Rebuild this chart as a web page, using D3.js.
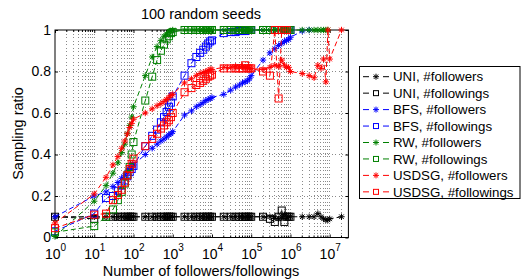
<!DOCTYPE html>
<html><head><meta charset="utf-8">
<script src="https://cdn.jsdelivr.net/npm/d3@7"></script>
<style>
body{margin:0;background:#fff;}
svg{display:block;font-family:"Liberation Sans",Arial,Helvetica,sans-serif;}
</style></head><body>
<svg id="c" width="522" height="280"></svg>
<script>
// ---------- data ----------
const followerCounts = [1,
 10,20,30,40,50,60,70,80,90,
 100,200,300,400,500,600,700,800,900,
 1e3,2e3,3e3,4e3,5e3,6e3,7e3,8e3,9e3,
 1e4,2e4,3e4,4e4,5e4,6e4,7e4,8e4,9e4,
 1e5,2e5,3e5,4e5,5e5,6e5,7e5,8e5,9e5,
 1e6,2e6,3e6,4e6,5e6,6e6,7e6,8e6,9e6,
 1e7,2e7];

const uniFollowers = [0.10,
 0.10,0.10,0.10,0.10,0.10,0.10,0.10,0.10,0.10,
 0.10,0.10,0.10,0.10,0.10,0.10,0.10,0.10,0.10,
 0.10,0.10,0.10,0.10,0.10,0.10,0.10,0.10,0.10,
 0.10,0.10,0.10,0.10,0.10,0.10,0.10,0.10,0.10,
 0.10,0.10,0.10,0.10,0.09,0.10,0.11,0.10,0.10,
 0.10,0.10,0.10,0.10,0.115,0.10,0.09,0.085,0.085,
 0.09,0.10];

const uniFollowings = [0.10,
 0.09,0.10,0.10,0.10,0.10,0.10,0.10,0.10,0.10,
 0.10,0.10,0.10,0.10,0.10,0.10,0.10,0.10,0.10,
 0.10,0.10,0.10,0.10,0.10,0.10,0.10,0.10,0.10,
 0.10,0.10,0.10,0.10,0.10,0.10,0.10,0.10,0.10,
 0.10,0.10,0.09,0.075,0.10,0.13,0.075,0.10,0.10,
 0.10,null,null,null,null,null,null,null,null,
 null,null];

const bfsFollowers = [0.10,
 0.20,0.22,0.245,0.265,0.285,0.30,0.315,0.33,0.34,
 0.35,0.40,0.43,0.45,0.465,0.475,0.485,0.495,0.50,
 0.51,0.59,0.61,0.63,0.64,0.65,0.66,0.665,0.67,
 0.675,0.69,0.71,0.725,0.735,0.745,0.75,0.755,0.765,
 0.78,0.855,0.89,0.91,0.925,0.935,0.945,0.95,0.955,
 0.965,0.995,1.0,null,null,null,null,null,null,
 null,null];

const bfsFollowings = [0.03,
 0.115,0.19,0.20,0.225,0.25,0.275,0.295,0.315,0.33,
 0.345,0.44,0.49,0.52,0.555,0.58,0.605,0.63,0.65,
 0.68,0.78,0.84,0.87,0.89,0.905,0.92,0.935,0.945,
 0.95,0.985,0.99,0.99,0.995,0.995,0.995,1.0,1.0,
 1.0,1.0,1.0,1.0,1.0,1.0,1.0,1.0,1.0,
 1.0,null,null,null,null,null,null,null,null,
 null,null];

const rwFollowers = [0.005,
 0.175,0.25,0.31,0.36,0.41,0.45,0.50,0.54,0.58,
 0.63,0.78,0.87,0.92,0.95,0.97,0.98,0.99,0.995,
 1.0,1.0,1.0,1.0,1.0,1.0,1.0,1.0,1.0,
 1.0,1.0,1.0,1.0,1.0,1.0,1.0,1.0,1.0,
 1.0,1.0,1.0,1.0,1.0,1.0,1.0,1.0,1.0,
 1.0,1.0,1.0,1.0,1.0,1.0,1.0,1.0,1.0,
 null,null];

const rwFollowings = [0.025,
 0.055,0.10,0.135,0.18,0.22,0.26,0.30,0.34,0.40,
 0.46,0.66,0.775,0.855,0.90,0.93,0.955,0.97,0.985,
 0.99,1.0,1.0,1.0,1.0,1.0,1.0,1.0,1.0,
 1.0,1.0,1.0,1.0,1.0,1.0,1.0,1.0,1.0,
 1.0,1.0,1.0,1.0,1.0,1.0,1.0,1.0,1.0,
 1.0,null,null,null,null,null,null,null,null,
 null,null];

const usdsgFollowers = [0.07,
 0.21,0.29,0.35,0.39,0.43,0.465,0.50,0.53,0.55,
 0.57,0.60,0.62,0.635,0.645,0.655,0.665,0.675,0.685,
 0.69,0.745,0.765,0.78,0.79,0.795,0.80,0.805,0.81,
 0.81,0.82,0.82,0.825,0.82,0.825,0.82,0.82,0.815,
 0.815,0.81,0.82,0.83,0.825,0.855,0.83,0.82,0.82,
 0.80,0.79,0.78,0.77,0.83,0.815,0.86,0.75,1.0,
 0.86,1.0];

const usdsgFollowings = [0.045,
 0.11,0.115,0.18,0.205,0.23,0.265,0.30,0.33,0.355,
 0.38,0.44,0.475,0.50,0.525,0.54,0.555,0.565,0.58,
 0.60,0.70,0.72,0.735,0.745,0.755,0.765,0.775,0.78,
 0.785,0.815,0.815,0.815,0.815,0.815,0.83,0.815,0.815,
 0.815,0.80,0.78,1.0,0.67,1.0,1.0,1.0,null,
 null,null,null,null,null,null,null,null,null,
 null,null];

const legendLabels = ["UNI, #followers","UNI, #followings","BFS, #followers","BFS, #followings",
  "RW, #followers","RW, #followings","USDSG, #followers","USDSG, #followings"];
const xDecades = [1,1e1,1e2,1e3,1e4,1e5,1e6,1e7];
const xExponents = ["0","1","2","3","4","5","6","7"];
const yTicks = [0,0.2,0.4,0.6,0.8,1];
const yTickLabels = ["0","0.2","0.4","0.6","0.8","1"];
const titleText = "100 random seeds";
const xLabel = "Number of followers/followings";
const yLabel = "Sampling ratio";

// ---------- chart ----------
const W=522,H=280;
const L=55,R=348.4,T=30,B=237.5;
const FONT='"Liberation Sans",Arial,Helvetica,sans-serif';
const x=d3.scaleLog().domain([1,3e7]).range([L,R]);
const y=d3.scaleLinear().domain([0,1]).range([B,T]);
const svg=d3.select('#c');
svg.append('rect').attr('width',W).attr('height',H).attr('fill','#fff');

// grid
const allXTicks = x.ticks().filter(v=>v>1 && v<3e7);
const grid = svg.append('g');
grid.selectAll('line.vx').data(allXTicks).join('line')
  .attr('x1',d=>x(d)).attr('x2',d=>x(d)).attr('y1',T).attr('y2',B)
  .attr('stroke','#8a8a8a').attr('stroke-width',1).attr('stroke-dasharray','1,2.5')
  .attr('shape-rendering','crispEdges');
grid.selectAll('line.hy').data(yTicks.filter(v=>v>0&&v<1)).join('line')
  .attr('x1',L).attr('x2',R).attr('y1',d=>y(d)).attr('y2',d=>y(d))
  .attr('stroke','#8a8a8a').attr('stroke-width',1).attr('stroke-dasharray','1,2.5')
  .attr('shape-rendering','crispEdges');

// axes
const gxB = svg.append('g').attr('transform',`translate(0,${B})`)
  .call(d3.axisBottom(x).tickValues(xDecades).tickSizeInner(-3).tickSizeOuter(0).tickPadding(12)
    .tickFormat(()=> "10"));
gxB.select('.domain').remove();
gxB.selectAll('text').attr('font-size',14).attr('font-family',FONT).attr('fill','#000')
  .each(function(d,i){ d3.select(this).append('tspan').attr('dy',-8).attr('font-size',10).text(xExponents[i]); });
const gxT = svg.append('g').attr('transform',`translate(0,${T})`)
  .call(d3.axisTop(x).tickValues(xDecades).tickSizeInner(-3).tickSizeOuter(0).tickFormat(''));
gxT.select('.domain').remove();
const minorX = allXTicks.filter(v=>!xDecades.includes(v));
svg.append('g').selectAll('line').data(minorX).join('line')
  .attr('x1',d=>x(d)).attr('x2',d=>x(d)).attr('y1',B).attr('y2',B-2).attr('stroke','#000');
svg.append('g').selectAll('line').data(minorX).join('line')
  .attr('x1',d=>x(d)).attr('x2',d=>x(d)).attr('y1',T).attr('y2',T+2).attr('stroke','#000');

const gyL = svg.append('g').attr('transform',`translate(${L},0)`)
  .call(d3.axisLeft(y).tickValues(yTicks).tickSizeInner(-3).tickSizeOuter(0).tickPadding(4)
    .tickFormat((d,i)=>yTickLabels[i]));
gyL.select('.domain').remove();
gyL.selectAll('text').attr('font-size',14).attr('font-family',FONT).attr('fill','#000');
const gyR = svg.append('g').attr('transform',`translate(${R},0)`)
  .call(d3.axisRight(y).tickValues(yTicks).tickSizeInner(-3).tickSizeOuter(0).tickFormat(''));
gyR.select('.domain').remove();

svg.append('rect').attr('x',L).attr('y',T).attr('width',R-L).attr('height',B-T)
  .attr('fill','none').attr('stroke','#000').attr('stroke-width',1);

// labels
svg.append('text').attr('x',201).attr('y',18.5).attr('text-anchor','middle')
  .attr('font-size',14.5).attr('font-family',FONT).text(titleText);
svg.append('text').attr('x',201).attr('y',276).attr('text-anchor','middle')
  .attr('font-size',14.5).attr('font-family',FONT).text(xLabel);
svg.append('text').attr('transform','translate(23,133.5) rotate(-90)').attr('text-anchor','middle')
  .attr('font-size',14.5).attr('font-family',FONT).text(yLabel);

// series
const series = [
  {v:uniFollowers, c:'#000000', m:'star'},
  {v:uniFollowings, c:'#000000', m:'square'},
  {v:bfsFollowers, c:'#0000ff', m:'star'},
  {v:bfsFollowings, c:'#0000ff', m:'square'},
  {v:rwFollowers, c:'#008000', m:'star'},
  {v:rwFollowings, c:'#008000', m:'square'},
  {v:usdsgFollowers, c:'#ff0000', m:'star'},
  {v:usdsgFollowings, c:'#ff0000', m:'square'}
];
function starPath(r){ const d=r*0.72;
  return `M${-r},0L${r},0M0,${-r}L0,${r}M${-d},${-d}L${d},${d}M${-d},${d}L${d},${-d}`; }
function drawMarker(g, type, cx, cy, color, size){
  if(type==='star'){
    g.append('path').attr('d',starPath(size)).attr('transform',`translate(${cx},${cy})`)
      .attr('stroke',color).attr('stroke-width',1).attr('fill','none');
  } else {
    g.append('rect').attr('x',cx-size).attr('y',cy-size).attr('width',2*size).attr('height',2*size)
      .attr('stroke',color).attr('stroke-width',1).attr('fill','none');
  }
}
const line = d3.line().defined(d=>d[1]!=null).x(d=>x(d[0])).y(d=>y(d[1]));
series.forEach(s=>{
  const pts = followerCounts.map((c,i)=>[c,s.v[i]]);
  const g = svg.append('g');
  g.append('path').datum(pts).attr('d',line).attr('fill','none').attr('stroke',s.c)
    .attr('stroke-width',1).attr('stroke-dasharray','5,3');
  pts.filter(p=>p[1]!=null).forEach(p=>{
    drawMarker(g, s.m, x(p[0]), y(p[1]), s.c, s.m==='star'?3.2:3.5);
  });
});

// legend
const lg = svg.append('g');
lg.append('rect').attr('x',359.5).attr('y',66.5).attr('width',160.5).attr('height',132)
  .attr('fill','#fff').attr('stroke','#000').attr('stroke-width',1);
legendLabels.forEach((lab,i)=>{
  const cy = 76.7 + i*16.45;
  const s = series[i];
  lg.append('line').attr('x1',363).attr('x2',369).attr('y1',cy).attr('y2',cy).attr('stroke',s.c);
  lg.append('line').attr('x1',383).attr('x2',389).attr('y1',cy).attr('y2',cy).attr('stroke',s.c);
  drawMarker(lg, s.m, 376, cy, s.c, s.m==='star'?3:2.5);
  lg.append('text').attr('x',393).attr('y',cy+4.7).attr('font-size',13.3).attr('font-family',FONT).text(lab);
});
</script>
</body></html>
